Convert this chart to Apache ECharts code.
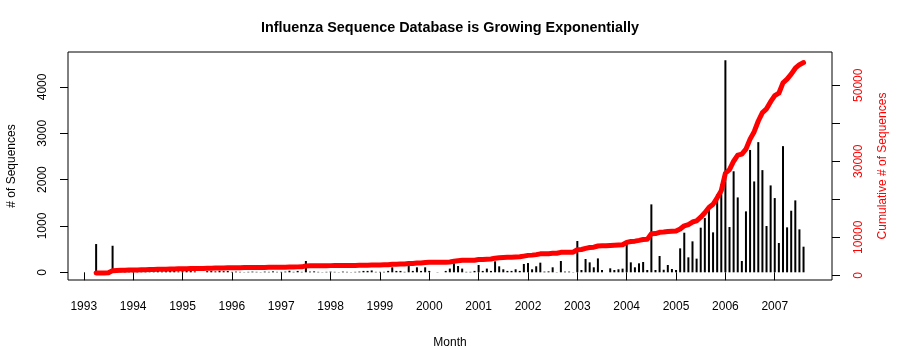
<!DOCTYPE html>
<html><head><meta charset="utf-8">
<script src="https://cdn.jsdelivr.net/npm/echarts@6/dist/echarts.min.js"></script>
<style>html,body{margin:0;padding:0;background:#fff}#c{width:900px;height:350px}</style>
</head><body><div id="c"></div>
<script>
// Monthly new sequences, starting April 1993
const startYear = 1993, startMonth = 4;
const counts1993 = [610, 10, 15, 20, 573, 40, 35, 30, 40];
const counts1994 = [30, 25, 35, 20, 30, 25, 30, 20, 25, 35, 30, 20];
const counts1995 = [25, 30, 45, 20, 0, 0, 25, 30, 20, 35, 25, 30];
const counts1996 = [10, 15, 10, 5, 10, 15, 10, 5, 15, 10, 20, 10];
const counts1997 = [10, 15, 35, 10, 30, 10, 244, 15, 20, 10, 5, 10];
const counts1998 = [15, 10, 5, 15, 10, 5, 10, 15, 30, 30, 40, 10];
const counts1999 = [10, 10, 30, 108, 30, 30, 10, 144, 30, 108, 30, 108];
const counts2000 = [30, 0, 5, 0, 30, 80, 194, 136, 80, 10, 10, 30];
const counts2001 = [158, 30, 80, 30, 237, 129, 65, 30, 30, 65, 30, 180];
const counts2002 = [200, 65, 130, 208, 15, 20, 108, 5, 244, 15, 15, 5];
const counts2003 = [675, 50, 287, 215, 108, 300, 50, 0, 86, 50, 65, 79];
const counts2004 = [625, 215, 108, 194, 223, 50, 1466, 50, 352, 55, 158, 72];
const counts2005 = [50, 517, 855, 323, 668, 295, 963, 1171, 1387, 862, 1680, 1900];
const counts2006 = [4576, 977, 2180, 1616, 244, 1315, 2640, 1961, 2809, 2205, 999, 1875];
const counts2007 = [1602, 632, 2723, 970, 1329, 1552, 927, 553];

const yearTicks = [1993,1994,1995,1996,1997,1998,1999,2000,2001,2002,2003,2004,2005,2006,2007];
const leftTicks = [0, 1000, 2000, 3000, 4000];
const rightTicks = [0, 10000, 20000, 30000, 40000, 50000];
const rightLabels = [0, 10000, 30000, 50000];

const monthly = [].concat(counts1993, counts1994, counts1995, counts1996, counts1997,
  counts1998, counts1999, counts2000, counts2001, counts2002, counts2003, counts2004,
  counts2005, counts2006, counts2007);
const barData = [], cumData = [];
let cum = 0;
monthly.forEach((v, i) => {
  const x = startYear + (startMonth - 1 + i) / 12;
  cum += v;
  barData.push([x, v]);
  cumData.push([x, cum]);
});

const FONT = "'Liberation Sans', Arial, Helvetica, sans-serif";
const plain = v => String(v);
const chart = echarts.init(document.getElementById('c'), null, {renderer: 'canvas'});
chart.setOption({
  animation: false,
  backgroundColor: '#fff',
  textStyle: {fontFamily: FONT},
  title: {
    text: 'Influenza Sequence Database is Growing Exponentially',
    left: 'center', top: 16,
    textStyle: {fontFamily: FONT, fontSize: 14.4, fontWeight: 'bold', color: '#000'}
  },
  grid: {left: 68, right: 68, top: 52, height: 228, show: true, borderColor: '#000', borderWidth: 1,
    backgroundColor: 'transparent', containLabel: false, outerBoundsMode: 'none'},
  xAxis: {
    type: 'value', min: 1992.68, max: 2008.16,
    offset: 3,
    name: 'Month', nameLocation: 'middle', nameGap: 54,
    nameTextStyle: {fontFamily: FONT, fontSize: 12, color: '#000'},
    axisLine: {show: false},
    splitLine: {show: false},
    axisTick: {show: true, length: 8, customValues: yearTicks, lineStyle: {color: '#000'}},
    axisLabel: {customValues: yearTicks, margin: 18, fontFamily: FONT, fontSize: 12, color: '#000', formatter: plain}
  },
  yAxis: [{
    type: 'value', min: -166, max: 4754, position: 'left',
    name: '# of Sequences', nameLocation: 'middle', nameGap: 50, nameRotate: 90,
    nameTextStyle: {fontFamily: FONT, fontSize: 12, color: '#000'},
    axisLine: {show: false},
    splitLine: {show: false},
    axisTick: {show: true, length: 8, customValues: leftTicks, lineStyle: {color: '#000'}},
    axisLabel: {customValues: leftTicks, rotate: 90, margin: 19, fontFamily: FONT, fontSize: 12, color: '#000', formatter: plain}
  }, {
    type: 'value', min: -1235, max: 58750, position: 'right',
    name: 'Cumulative # of Sequences', nameLocation: 'middle', nameGap: 45, nameRotate: 90,
    nameTextStyle: {fontFamily: FONT, fontSize: 12, color: '#ff0000'},
    axisLine: {show: false},
    splitLine: {show: false},
    axisTick: {show: true, length: 8, customValues: rightTicks, lineStyle: {color: '#000'}},
    axisLabel: {customValues: rightLabels, rotate: 90, margin: 21, fontFamily: FONT, fontSize: 12, color: '#ff0000', formatter: plain}
  }],
  series: [{
    type: 'bar', yAxisIndex: 0, data: barData, barWidth: 2,
    itemStyle: {color: '#000'}, silent: true, z: 2
  }, {
    type: 'line', yAxisIndex: 1, data: cumData, showSymbol: false, symbol: 'none',
    lineStyle: {color: '#ff0000', width: 5, cap: 'round', join: 'round'}, silent: true, z: 3
  }]
});
</script></body></html>
